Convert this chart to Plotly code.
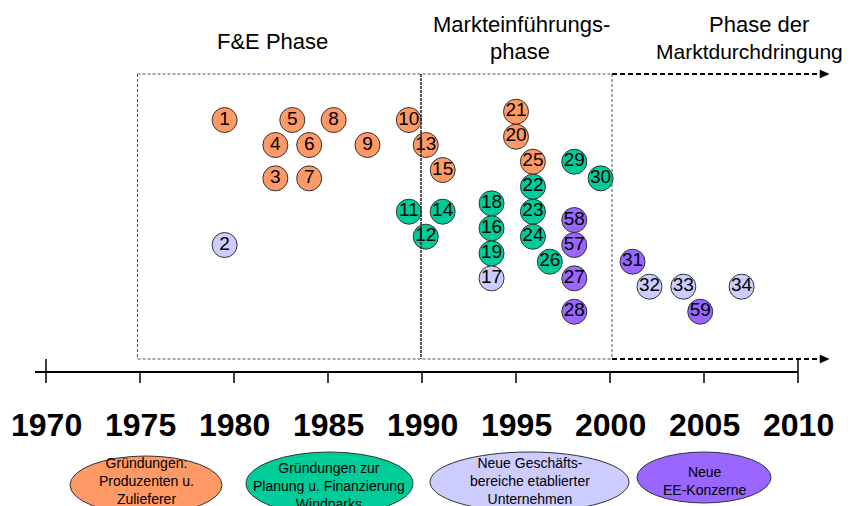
import plotly.graph_objects as go

# ---------------- data ----------------
# company numbers, founding/entry year (x) and vertical stacking level (y, rows of half a circle)
orange_ids = [1, 3, 4, 5, 6, 7, 8, 9, 10, 13, 15, 20, 21, 25]
orange_year = [1979.5, 1982.2, 1982.2, 1983.1, 1984.0, 1984.0, 1985.3, 1987.1, 1989.3, 1990.2, 1991.1, 1995.0, 1995.0, 1995.9]
orange_level = [1, 8, 4, 1, 4, 8, 1, 4, 1, 4, 7, 3, 0, 6]

green_ids = [11, 12, 14, 16, 18, 19, 22, 23, 24, 26, 29, 30]
green_year = [1989.3, 1990.2, 1991.1, 1993.7, 1993.7, 1993.7, 1995.9, 1995.9, 1995.9, 1996.8, 1998.1, 1999.5]
green_level = [12, 15, 12, 14, 11, 17, 9, 12, 15, 18, 6, 8]

lav_ids = [2, 17, 32, 33, 34]
lav_year = [1979.5, 1993.7, 2002.1, 2003.9, 2007.0]
lav_level = [16, 20, 21, 21, 21]

purple_ids = [27, 28, 31, 57, 58, 59]
purple_year = [1998.1, 1998.1, 2001.2, 1998.1, 1998.1, 2004.8]
purple_level = [20, 24, 18, 16, 13, 24]

tick_years = [1970, 1975, 1980, 1985, 1990, 1995, 2000, 2005, 2010]
tick_labels = ["1970", "1975", "1980", "1985", "1990", "1995", "2000", "2005", "2010"]

phase_lines = ["F&E Phase", "Markteinführungs-", "phase", "Phase der", "Marktdurchdringung"]
group_labels = ["Gründungen:<br>Produzenten u.<br>Zulieferer",
                "Gründungen zur<br>Planung u. Finanzierung<br>Windparks",
                "Neue Geschäfts-<br>bereiche etablierter<br>Unternehmen",
                "Neue<br>EE-Konzerne"]

# ---------------- styling ----------------
OFF = 8            # page body margin
W, H = 862 - OFF, 506 - OFF
C_ORANGE = "#FF9966"
C_GREEN = "#00CC99"
C_LAV = "#CCCCFF"
C_PURPLE = "#9966FF"
FONT = "Liberation Sans, Arial, sans-serif"

PX_PER_YEAR = 18.8
X_1970 = 46.0
LEVEL_PX = 8.333
LEVEL0 = 111.7


def xp(p):  # page pixel -> year
    return 1970 + (p - X_1970) / PX_PER_YEAR


def py(p):  # page pixel -> paper y
    return 1 - (p - OFF) / H


def pxp(p):  # page pixel -> paper x
    return (p - OFF) / W


fig = go.Figure()

for ids, yrs, lvls, col in [
    (orange_ids, orange_year, orange_level, C_ORANGE),
    (green_ids, green_year, green_level, C_GREEN),
    (lav_ids, lav_year, lav_level, C_LAV),
    (purple_ids, purple_year, purple_level, C_PURPLE),
]:
    fig.add_trace(go.Scatter(
        x=yrs, y=lvls, mode="markers+text",
        text=[str(i) for i in ids], textposition="middle center",
        textfont=dict(family=FONT, size=19, color="black"),
        marker=dict(size=25, color=col, line=dict(color="#333333", width=1)),
        cliponaxis=False, showlegend=False, hoverinfo="skip",
    ))

shapes = []
# timeline axis
shapes.append(dict(type="line", xref="x", yref="paper", x0=xp(35), x1=tick_years[-1],
                   y0=py(372), y1=py(372), line=dict(color="black", width=2)))
for i, t in enumerate(tick_years):
    top = 359 if (i == 0 or i == len(tick_years) - 1) else 372
    shapes.append(dict(type="line", xref="x", yref="paper", x0=t, x1=t,
                       y0=py(top), y1=py(383), line=dict(color="black", width=1.5)))

# phase frame
thin = dict(color="#555555", width=1, dash="3px,2px")
for yy in (74, 359):
    shapes.append(dict(type="line", xref="paper", yref="paper", x0=pxp(137.5), x1=pxp(612),
                       y0=py(yy), y1=py(yy), line=thin))
    shapes.append(dict(type="line", xref="paper", yref="paper", x0=pxp(612), x1=pxp(821),
                       y0=py(yy), y1=py(yy), line=dict(color="black", width=2, dash="5px,3px")))
    shapes.append(dict(type="path", xref="paper", yref="paper", fillcolor="black",
                       line=dict(color="black", width=0.5),
                       path=f"M {pxp(820)},{py(yy-4)} L {pxp(829)},{py(yy)} L {pxp(820)},{py(yy+4)} Z"))
shapes.append(dict(type="line", xref="paper", yref="paper", x0=pxp(137.5), x1=pxp(137.5),
                   y0=py(74), y1=py(359), line=thin))
shapes.append(dict(type="line", xref="paper", yref="paper", x0=pxp(612), x1=pxp(612),
                   y0=py(74), y1=py(359), line=thin))
shapes.append(dict(type="line", xref="paper", yref="paper", x0=pxp(421), x1=pxp(421),
                   y0=py(74), y1=py(359), layer="above",
                   line=dict(color="#222222", width=1.5, dash="3px,1px")))

# group ellipses
ell = [(70, 222, 456, 514, C_ORANGE), (246, 413, 452, 515, C_GREEN),
       (430, 629, 452, 512, C_LAV), (637, 771, 452, 503, C_PURPLE)]
for x0, x1, y0, y1, col in ell:
    shapes.append(dict(type="circle", xref="paper", yref="paper", x0=pxp(x0), x1=pxp(x1),
                       y0=py(y1), y1=py(y0), fillcolor=col, line=dict(color="#333333", width=1)))

annotations = []
for t, lab in zip(tick_years, tick_labels):
    annotations.append(dict(x=t, y=py(425), xref="x", yref="paper", text=lab, showarrow=False,
                            font=dict(family=FONT, size=32, color="black", weight="bold"),
                            xanchor="center", yanchor="middle"))

phase_pos = [(272, 42, 22), (521, 25, 22), (520, 52, 22), (759, 25, 22), (749, 52, 21)]
for (x, y, s), lab in zip(phase_pos, phase_lines):
    annotations.append(dict(x=pxp(x), y=py(y), xref="paper", yref="paper", text=lab, showarrow=False,
                            font=dict(family=FONT, size=s, color="black"),
                            xanchor="center", yanchor="middle"))

grp_pos = [(146, 480.5), (329, 485.7), (530, 481), (704, 481)]
for (x, y), lab in zip(grp_pos, group_labels):
    annotations.append(dict(x=pxp(x), y=py(y), xref="paper", yref="paper", text=lab, showarrow=False,
                            font=dict(family=FONT, size=14, color="black"),
                            xanchor="center", yanchor="middle"))

fig.update_layout(
    width=W, height=H, margin=dict(l=0, r=0, t=0, b=0),
    paper_bgcolor="white", plot_bgcolor="white",
    xaxis=dict(range=[xp(OFF), xp(862)], visible=False, fixedrange=True),
    yaxis=dict(range=[(506 - LEVEL0) / LEVEL_PX, (OFF - LEVEL0) / LEVEL_PX], visible=False, fixedrange=True),
    shapes=shapes, annotations=annotations,
)

fig.write_html("out.html")
